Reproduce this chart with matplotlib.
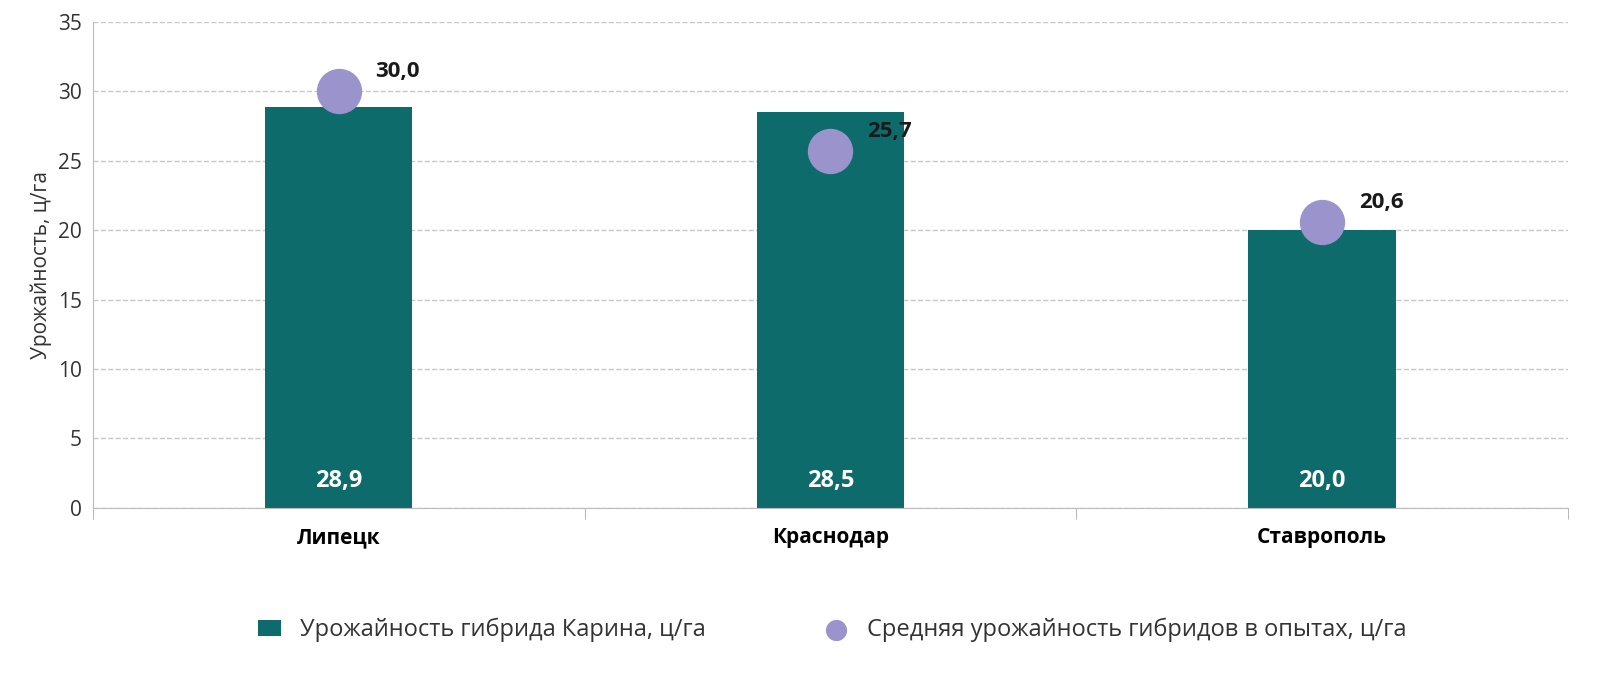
import numpy as np
import matplotlib
matplotlib.use("Agg")
from matplotlib import pyplot as plt

cities = ["Липецк", "Краснодар", "Ставрополь"]
karina = [28.9, 28.5, 20.0]
average = [30.0, 25.7, 20.6]
bar_labels = ["28,9", "28,5", "20,0"]
dot_labels = ["30,0", "25,7", "20,6"]

plt.rcParams['font.family'] = ['Open Sans', 'DejaVu Sans']

fig = plt.figure(figsize=(16, 6.77), dpi=100)
ax = fig.add_axes([0.058, 0.25, 0.922, 0.7175])

x = np.arange(len(cities))
bar_color = '#0e6b6b'
dot_color = '#9b94cc'

bars = ax.bar(x, karina, width=0.3, color=bar_color, zorder=2,
              label='Урожайность гибрида Карина, ц/га')
dots = ax.scatter(x, average, s=1000, color=dot_color, zorder=3,
                  label='Средняя урожайность гибридов в опытах, ц/га')

for xi, lb in zip(x, bar_labels):
    ax.text(xi, 1.9, lb, ha='center', va='center', color='white',
            fontsize=17, fontweight='bold', zorder=4)
for xi, yi, lb in zip(x, average, dot_labels):
    ax.text(xi + 0.12, yi + 1.4, lb, ha='center', va='center', color='#1a1a1a',
            fontsize=16, fontweight='bold', zorder=4)

ax.set_xlim(-0.5, 2.5)
ax.set_ylim(0, 35)
ax.set_yticks(range(0, 36, 5))
ax.tick_params(axis='y', labelsize=15, length=0, pad=8, colors='#333333')
ax.set_xticks(x)
ax.set_xticklabels(cities, fontsize=15, fontweight='bold')
ax.set_xticks([-0.5, 0.5, 1.5, 2.5], minor=True)
ax.tick_params(axis='x', which='major', length=0, pad=14)
ax.tick_params(axis='x', which='minor', length=8, color='#aaaaaa')
ax.set_ylabel('Урожайность, ц/га', fontsize=15, color='#333333')

ax.grid(axis='y', linestyle='--', color='#c8c8c8', linewidth=1, zorder=0)
for s in ['top', 'right']:
    ax.spines[s].set_visible(False)
ax.spines['left'].set_color('#bbbbbb')
ax.spines['bottom'].set_color('#bbbbbb')

fig.legend(handles=[bars, dots], loc='lower center', bbox_to_anchor=(0.52, 0.02),
           ncol=2, frameon=False, fontsize=17, markerscale=0.45, handlelength=1.0,
           columnspacing=5, labelcolor='#333333')

fig.savefig('out.png')
